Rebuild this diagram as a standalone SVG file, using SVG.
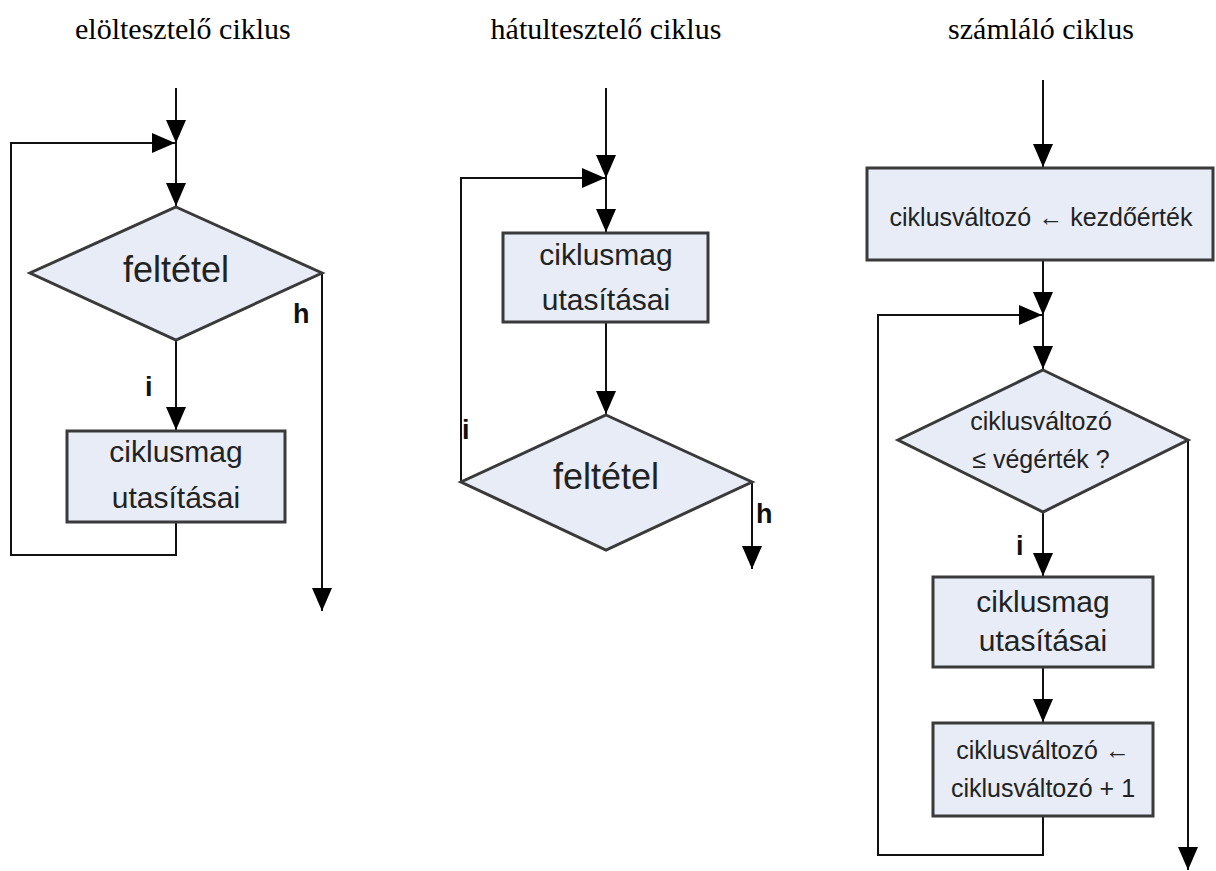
<svg xmlns="http://www.w3.org/2000/svg" width="1216" height="871" viewBox="0 0 1216 871">
  <style>
    .title { font-family: "Liberation Serif", "Times New Roman", serif; font-size: 30px; fill: #000; }
    .node-shape { fill: #e7ecf6; stroke: #3a3a3a; stroke-width: 3; }
    .node-text { font-family: "Liberation Sans", Arial, sans-serif; fill: #222; text-anchor: middle; }
    .big { font-size: 30px; }
    .cond { font-size: 36px; }
    .small { font-size: 25px; }
    .label { font-family: "Liberation Sans", Arial, sans-serif; font-weight: bold; font-size: 27px; fill: #111; }
    .conn { fill: none; stroke: #111; stroke-width: 2; marker-end: url(#arrow); }
  </style>
  <defs>
    <marker id="arrow" markerUnits="userSpaceOnUse" markerWidth="24" markerHeight="20" refX="23" refY="10" orient="auto">
      <path d="M0,0 L23,10 L0,20 z" fill="#000"/>
    </marker>
  </defs>
  <rect width="1216" height="871" fill="#fff"/>

  <!-- titles -->
  <text class="title" x="75" y="39">elöltesztelő ciklus</text>
  <text class="title" x="606" y="39" text-anchor="middle">hátultesztelő ciklus</text>
  <text class="title" x="1041" y="39" text-anchor="middle">számláló ciklus</text>

  <!-- connectors -->
  <g id="connectors">
    <!-- pre-test loop -->
    <path class="conn" d="M176,88 V143"/>
    <path class="conn" d="M176,143 V206"/>
    <path class="conn" d="M176,340 V430"/>
    <path class="conn" d="M176,522 V555 H11 V143 H175"/>
    <path class="conn" d="M322,273 V611"/>
    <!-- post-test loop -->
    <path class="conn" d="M606,88 V178"/>
    <path class="conn" d="M606,178 V232"/>
    <path class="conn" d="M606,322 V414"/>
    <path class="conn" d="M461,482 V178 H605"/>
    <path class="conn" d="M752,482 V569"/>
    <!-- counting loop -->
    <path class="conn" d="M1043,80 V167"/>
    <path class="conn" d="M1043,260 V315"/>
    <path class="conn" d="M1043,315 V369"/>
    <path class="conn" d="M1043,512 V576"/>
    <path class="conn" d="M1043,667 V722"/>
    <path class="conn" d="M1043,816 V855 H878 V315 H1042"/>
    <path class="conn" d="M1188,440 V870"/>
  </g>

  <!-- pre-test loop nodes -->
  <g id="pre-condition">
    <polygon class="node-shape" points="176,207 322,273 176,340 30,273"/>
    <text class="node-text cond" x="176" y="282">feltétel</text>
  </g>
  <g id="pre-body">
    <rect class="node-shape" x="67" y="431" width="218" height="91"/>
    <text class="node-text big" x="176" y="462">ciklusmag</text>
    <text class="node-text big" x="176" y="508">utasításai</text>
  </g>
  <g id="pre-labels">
    <text class="label" x="293" y="323">h</text>
    <text class="label" x="145" y="396">i</text>
  </g>

  <!-- post-test loop nodes -->
  <g id="post-body">
    <rect class="node-shape" x="503" y="233" width="205" height="89"/>
    <text class="node-text big" x="606" y="265">ciklusmag</text>
    <text class="node-text big" x="606" y="310">utasításai</text>
  </g>
  <g id="post-condition">
    <polygon class="node-shape" points="606,415 752,482 606,550 461,482"/>
    <text class="node-text cond" x="606" y="489">feltétel</text>
  </g>
  <g id="post-labels">
    <text class="label" x="462" y="439">i</text>
    <text class="label" x="756" y="523">h</text>
  </g>

  <!-- counting loop nodes -->
  <g id="count-init">
    <rect class="node-shape" x="867" y="168" width="346" height="92"/>
    <text class="node-text small" x="1041" y="226">ciklusváltozó ← kezdőérték</text>
  </g>
  <g id="count-condition">
    <polygon class="node-shape" points="1043,370 1188,440 1043,512 898,440"/>
    <text class="node-text small" x="1041" y="430">ciklusváltozó</text>
    <text class="node-text small" x="1041" y="468">≤ végérték ?</text>
  </g>
  <g id="count-body">
    <rect class="node-shape" x="933" y="577" width="220" height="90"/>
    <text class="node-text big" x="1043" y="612">ciklusmag</text>
    <text class="node-text big" x="1043" y="651">utasításai</text>
  </g>
  <g id="count-step">
    <rect class="node-shape" x="933" y="723" width="220" height="93"/>
    <text class="node-text small" x="1043" y="759">ciklusváltozó ←</text>
    <text class="node-text small" x="1043" y="797">ciklusváltozó + 1</text>
  </g>
  <g id="count-labels">
    <text class="label" x="1016" y="555">i</text>
  </g>
</svg>
